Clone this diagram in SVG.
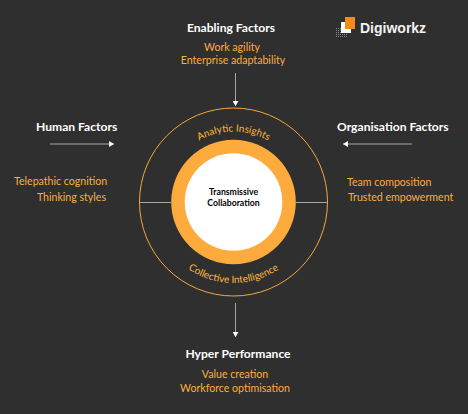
<svg xmlns="http://www.w3.org/2000/svg" width="468" height="414" viewBox="0 0 468 414">
<style>
text{font-family:"Lato","Carlito","Open Sans",sans-serif}
.h{font-size:12.1px;font-weight:700;fill:#fff}
.o{font-size:10.6px;fill:#ffad3d}
.a{font-size:10px;fill:#ffb73a}
.c{font-size:8.7px;font-weight:700;fill:#000;text-anchor:middle}
.m{text-anchor:middle}.e{text-anchor:end}
.l{stroke:#a6a6a6;stroke-width:1;fill:none}
</style>
<defs>
<marker id="ah" markerUnits="userSpaceOnUse" markerWidth="6" markerHeight="6" refX="5" refY="3" orient="auto"><path d="M0 0L5 3L0 6Z" fill="#fff"/></marker>
<path id="top" d="M163 202A70.500 70.500 0 0 1 304 202"/>
<path id="bot" d="M152.500 202A81 81 0 0 0 314.500 202"/>
<pattern id="dots" width="2" height="2" patternUnits="userSpaceOnUse"><rect width="1" height="1" fill="#8a8a8a"/></pattern>
</defs>
<rect width="468" height="414" fill="#2f2f2f"/>
<g id="connectors">
<line class="l" x1="235.500" y1="73" x2="235.500" y2="106" marker-end="url(#ah)"/>
<line class="l" x1="50" y1="144" x2="114" y2="144" marker-end="url(#ah)"/>
<line class="l" x1="412" y1="144" x2="343" y2="144" marker-end="url(#ah)"/>
<line class="l" x1="235.500" y1="303" x2="235.500" y2="337" marker-end="url(#ah)"/>
<line class="l" x1="139.500" y1="202.500" x2="171" y2="202.500"/>
<line class="l" x1="296" y1="202.500" x2="327.500" y2="202.500"/>
</g>
<g id="enabling">
<text class="h m" x="231" y="32">Enabling Factors</text>
<text class="o m" x="232" y="51">Work agility</text>
<text class="o m" x="233" y="64">Enterprise adaptability</text>
</g>
<g id="human">
<text class="h" x="36" y="131">Human Factors</text>
<text class="o" x="14" y="185">Telepathic cognition</text>
<text class="o e" x="106" y="201">Thinking styles</text>
</g>
<g id="organisation">
<text class="h" x="337" y="131">Organisation Factors</text>
<text class="o" x="347" y="186">Team composition</text>
<text class="o" x="348" y="201">Trusted empowerment</text>
</g>
<g id="performance">
<text class="h m" x="238" y="358">Hyper Performance</text>
<text class="o m" x="235" y="378">Value creation</text>
<text class="o m" x="235" y="392">Workforce optimisation</text>
</g>
<g id="core">
<circle cx="233.500" cy="202" r="94" fill="none" stroke="#f5a63c" stroke-width="1"/>
<circle cx="233.500" cy="202" r="62.300" fill="#fdab3d"/>
<circle cx="233.500" cy="202" r="48.800" fill="#fff"/>
<text class="a"><textPath href="#top" startOffset="50%" text-anchor="middle">Analytic Insights</textPath></text>
<text class="a"><textPath href="#bot" startOffset="50%" text-anchor="middle">Collective Intelligence</textPath></text>
<text class="c" x="233.500" y="194.800">Transmissive</text>
<text class="c" x="233.500" y="206">Collaboration</text>
</g>
<g id="logo">
<rect x="336" y="27" width="11" height="10" fill="url(#dots)"/>
<rect x="341" y="22" width="10" height="11" fill="#fff"/>
<rect x="345" y="17" width="10" height="12" fill="#f58a1f"/>
<text x="360" y="32.500" font-size="14" font-weight="700" fill="#f2f2f2" style="font-family:'Liberation Sans',sans-serif">Digiworkz</text>
</g>
</svg>
